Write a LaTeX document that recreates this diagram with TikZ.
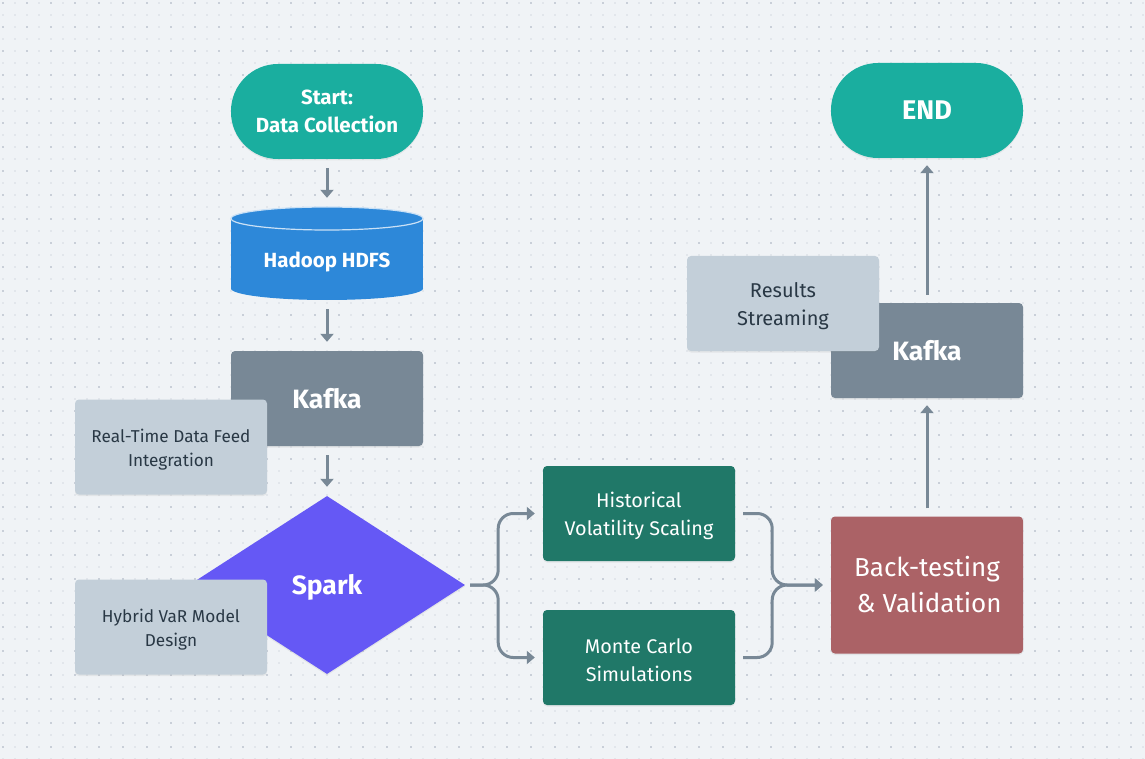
\documentclass[tikz,border=0pt]{standalone}
\usepackage{fontspec}
\setmainfont{Fira Sans}
\usetikzlibrary{arrows.meta,shapes.geometric,shadows}

% colours
\definecolor{bgcol}{HTML}{F0F3F6}
\definecolor{dotmajor}{HTML}{C9CFD8}
\definecolor{dotminor}{HTML}{E2E6EB}
\definecolor{startcol}{HTML}{1AAE9F}
\definecolor{hdfscol}{HTML}{2D88D9}
\definecolor{kafkacol}{HTML}{788896}
\definecolor{notecol}{HTML}{C3CFD9}
\definecolor{notetext}{HTML}{293845}
\definecolor{sparkcol}{HTML}{6558F5}
\definecolor{modelcol}{HTML}{207868}
\definecolor{testcol}{HTML}{AB6266}
\definecolor{linecol}{HTML}{788896}

\tikzset{
  softshadow/.style={drop shadow={opacity=.12, shadow xshift=0pt, shadow yshift=-1.5pt}},
  box/.style={rectangle, rounded corners=4pt, minimum width=192pt, minimum height=95pt,
    inner sep=2pt, align=center, text=white, softshadow},
  pill/.style={box, rounded corners=47pt, fill=startcol, font=\fontsize{20.5}{28}\selectfont\bfseries},
  kafkabox/.style={box, fill=kafkacol, font=\fontsize{26.5}{30}\selectfont\bfseries},
  notebox/.style={box, fill=notecol, text=notetext, font=\fontsize{17.2}{24}\selectfont, text height=42pt},
  modelbox/.style={box, fill=modelcol, font=\fontsize{19.8}{28}\selectfont, text height=49pt},
  flow/.style={draw=linecol, line width=3pt, -{Triangle[length=8pt,width=13pt]},
    shorten <=9pt, shorten >=9pt},
}

\begin{document}
\begin{tikzpicture}[x=1pt, y=-1pt]
    % background with dot grid
    \fill[bgcol] (0,0) rectangle (1145,759);
    \useasboundingbox (0,0) rectangle (1145,759);
    \foreach \i in {0,...,95}
      \foreach \j in {0,...,63}
        \fill[dotminor] (2+12*\i, 2+12*\j) rectangle ++(2,2);
    \foreach \i in {0,...,47}
      \foreach \j in {0,...,31}
        \fill[dotmajor] (2+24*\i, 2+24*\j) rectangle ++(2,2);

    % left column
    \node[pill] (start) at (327,111.5) {Start:\\Data Collection};

    \node[minimum width=192pt, minimum height=93pt, inner sep=0pt] (hdfs) at (327,253.5) {};
    \fill[hdfscol, softshadow] (231,218.5) rectangle (423,288.5);
    \fill[hdfscol] (327,288.5) ellipse [x radius=96, y radius=11.5];
    \fill[hdfscol] (327,218.5) ellipse [x radius=96, y radius=11.5];
    \draw[white!75!hdfscol, line width=1.2pt] (327,218.5) ellipse [x radius=96, y radius=11.5];
    \node[text=white, font=\fontsize{20.5}{28}\selectfont\bfseries] at (327,262) {Hadoop HDFS};

    \node[kafkabox] (kafkaA) at (327,398.5) {Kafka};

    \node[diamond, fill=sparkcol, minimum width=276pt, minimum height=178pt, aspect=1.55,
      inner sep=0pt, text=white, font=\fontsize{26.5}{30}\selectfont\bfseries, softshadow,
      text height=24pt, text depth=5pt]
      (spark) at (327,585) {Spark};

    % middle column
    \node[modelbox] (hist) at (639,513.5) {Historical\\Volatility Scaling};
    \node[modelbox] (monte) at (639,657.5) {Monte Carlo\\Simulations};

    % right column
    \node[box, fill=testcol, minimum height=137pt, font=\fontsize{26}{36}\selectfont]
      (back) at (927,585) {Back-testing\\\,\& Validation};
    \node[kafkabox] (kafkaB) at (927,350.5) {Kafka};
    \node[pill, font=\fontsize{27}{30}\selectfont\bfseries] (finish) at (927,110.5) {END};

    % notes
    \node[notebox] (feed) at (171,447) {Real-Time Data Feed\\Integration};
    \node[notebox] (hybrid) at (171,627) {Hybrid VaR Model\\Design};
    \node[notebox, font=\fontsize{20}{28}\selectfont, text height=49pt] (stream) at (783,303.5) {Results\\Streaming};

    % connectors
    \draw[flow] (start) -- (hdfs);
    \draw[flow] (hdfs) -- (kafkaA);
    \draw[flow] (kafkaA) -- (spark);
    \draw[flow, rounded corners=15pt, shorten <=5pt, shorten >=8pt] (spark.east) -- ++(33,0) |- (hist.west);
    \draw[flow, rounded corners=15pt, shorten <=5pt, shorten >=8pt] (spark.east) -- ++(33,0) |- (monte.west);
    \draw[flow, rounded corners=15pt, shorten <=8pt, shorten >=8pt] (hist.east) -- ++(37,0) |- (back.west);
    \draw[flow, rounded corners=15pt, shorten <=8pt, shorten >=8pt] (monte.east) -- ++(37,0) |- (back.west);
    \draw[flow, shorten <=8pt, shorten >=7pt] (back) -- (kafkaB);
    \draw[flow, shorten <=8pt, shorten >=7pt] (kafkaB) -- (finish);
\end{tikzpicture}
\end{document}
